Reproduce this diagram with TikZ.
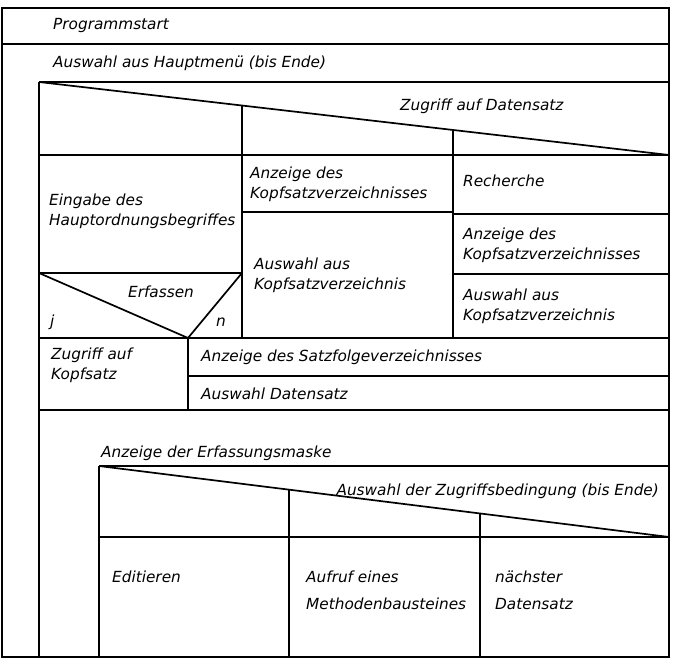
\documentclass[tikz,border=0pt]{standalone}
\usepackage{fontspec}
\setmainfont{DejaVu Sans}
\usetikzlibrary{calc}
\tikzstyle{line} = [line width=1.7pt]
\tikzstyle{txt} = [anchor=west, inner sep=0, align=left, font=\fontsize{15.3}{20}\selectfont\itshape]
\tikzstyle{txtwide} = [txt, font=\fontsize{15.3}{27}\selectfont\itshape]

\begin{document}
\begin{tikzpicture}[x=1pt, y=-1pt]
    \useasboundingbox (0,0) rectangle (673,660);

    % Rahmen
    \coordinate (tl) at (2,8);
    \coordinate (br) at (669,657);
    \draw[line] (tl) rectangle (br);
    \draw[line] (2,44) -- (669,44);

    % Schleife Hauptmenue
    \coordinate (caseA) at (39,82);
    \coordinate (caseB) at (669,155);
    \draw[line] (caseA) -- (669,82);
    \draw[line] (caseA) -- (39,657);
    \draw[line] (caseA) -- (caseB);
    \draw[line] (39,155) -- (caseB);
    \draw[line] ($(caseA)!{(242-39)/630}!(caseB)$) -- (242,338);
    \draw[line] ($(caseA)!{(453-39)/630}!(caseB)$) -- (453,338);
    \draw[line] (39,273) -- (242,273);
    \draw[line] (39,273) -- (188,338) -- (242,273);
    \draw[line] (242,212) -- (453,212);
    \draw[line] (453,214) -- (669,214);
    \draw[line] (453,274) -- (669,274);
    \draw[line] (39,338) -- (669,338);
    \draw[line] (188,338) -- (188,410);
    \draw[line] (188,376) -- (669,376);
    \draw[line] (39,410) -- (669,410);

    % Erfassungsmaske
    \coordinate (subA) at (99,466);
    \coordinate (subB) at (669,537);
    \draw[line] (subA) -- (669,466);
    \draw[line] (subA) -- (99,657);
    \draw[line] (subA) -- (subB);
    \draw[line] (99,537) -- (subB);
    \draw[line] ($(subA)!{(289-99)/570}!(subB)$) -- (289,657);
    \draw[line] ($(subA)!{(480-99)/570}!(subB)$) -- (480,657);

    \node[txt] (start) at (53,26) {Programmstart};
    \node[txt] (menu) at (53,63) {Auswahl aus Hauptmenü (bis Ende)};
    \node[txt] (zugriff) at (400,106) {Zugriff auf Datensatz};
    \node[txt] (eingabe) at (49,211) {Eingabe des\\Hauptordnungsbegriffes};
    \node[txt] (anzeigeA) at (250,184) {Anzeige des\\Kopfsatzverzeichnisses};
    \node[txt] (recherche) at (463,181) {Recherche};
    \node[txt] (anzeigeB) at (463,245) {Anzeige des\\Kopfsatzverzeichnisses};
    \node[txt] (auswahlA) at (254,275) {Auswahl aus\\Kopfsatzverzeichnis};
    \node[txt] (auswahlB) at (463,306) {Auswahl aus\\Kopfsatzverzeichnis};
    \node[txt, anchor=center] (erfassen) at (161,292) {Erfassen};
    \node[txt] (ja) at (50,322) {j};
    \node[txt] (nein) at (216,322) {n};
    \node[txt] (kopfsatz) at (51,365) {Zugriff auf\\Kopfsatz};
    \node[txt] (satzfolge) at (201,357) {Anzeige des Satzfolgeverzeichnisses};
    \node[txt] (datensatz) at (201,394) {Auswahl Datensatz};
    \node[txt] (maske) at (101,453) {Anzeige der Erfassungsmaske};
    \node[txt, anchor=east] (bedingung) at (659,491) {Auswahl der Zugriffsbedingung (bis Ende)};
    \node[txt] (editieren) at (112,577) {Editieren};
    \node[txtwide] (aufruf) at (306,590) {Aufruf eines\\Methodenbausteines};
    \node[txtwide] (naechster) at (495,590) {nächster\\Datensatz};
\end{tikzpicture}
\end{document}
